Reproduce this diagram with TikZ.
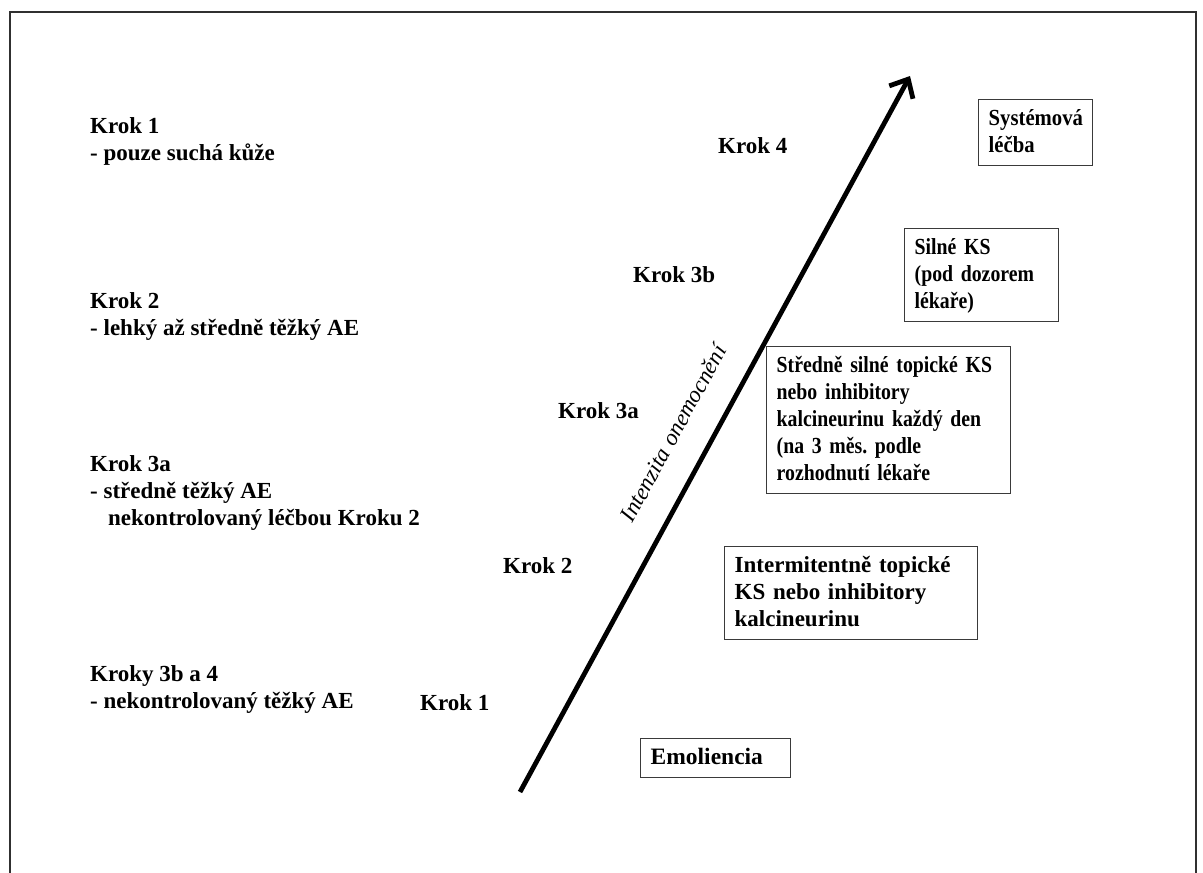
\documentclass[tikz,border=0pt]{standalone}
\usepackage{fontspec}
\setmainfont{Liberation Serif}
\newfontfamily\condfam[FakeStretch=0.86]{Liberation Serif}
\newfontfamily\semicondfam[FakeStretch=0.9]{Liberation Serif}
\usetikzlibrary{arrows.meta}
\definecolor{framegray}{HTML}{303030}
\definecolor{boxgray}{HTML}{3A3A3A}
\newcommand\fsz[1]{\fontsize{#1}{27}\selectfont}
\frenchspacing
\tikzset{
  basefont/.style={font=\fsz{23}\bfseries},
  condfont/.style={font=\condfam\fsz{23}\bfseries},
  lbl/.style={basefont, inner sep=0pt, anchor=base west},
  col/.style={basefont, inner sep=0pt, align=left, anchor=north west,
    execute at begin node=\rule{0pt}{18pt}},
  box/.style={basefont, draw=boxgray, line width=1.4pt, align=left,
    anchor=north west, inner xsep=10pt, inner ysep=8pt,
    execute at begin node=\rule{0pt}{18pt},
    execute at end node=\rule[-5pt]{0pt}{5pt}},
}
\begin{document}
\begin{tikzpicture}[x=1pt, y=-1pt]
\useasboundingbox (0,0) rectangle (1203,873);
\fill[white] (0,0) rectangle (1203,873);

% open frame around the page
\draw[framegray, line width=2pt] (9.5,873) -- (9.5,11.5) -- (1196,11.5) -- (1196,873);

% left column: description of each step
\node[col] (d1) at (90,117) {Krok 1\\- pouze suchá kůže};
\node[col] (d2) at (90,292) {Krok 2\\- lehký až středně těžký AE};
\node[col] (d3) at (90,455) {Krok 3a\\- středně těžký AE\\\hspace*{18pt}nekontrolovaný léčbou Kroku 2};
\node[col] (d4) at (90,665) {Kroky 3b a 4\\- nekontrolovaný těžký AE};

% step labels along the axis
\node[lbl] (k1) at (420,710) {Krok 1};
\node[lbl] (k2) at (503,573) {Krok 2};
\node[lbl] (k3a) at (558,418) {Krok 3a};
\node[lbl] (k3b) at (633,282) {Krok 3b};
\node[lbl] (k4) at (718,153) {Krok 4};

% severity axis
\coordinate (axisstart) at (520,792);
\coordinate (axistip) at (910,76);
\draw[line width=4.8pt, -{Straight Barb[length=15pt,width=27pt]}] (axisstart) -- (axistip);
\node[font=\fsz{23}\itshape, inner sep=0pt, rotate=61.4, anchor=base]
  (axislabel) at (680,437) {Intenzita onemocnění};

% treatment boxes
\node[box, font=\semicondfam\fsz{23}\bfseries, text width=94pt] (sys) at (978,99) {\mbox{Systémová}\\léčba};
\node[box, condfont, text width=134pt] (silne) at (904,228) {Silné KS\\\mbox{(pod dozorem}\\lékaře)};
\node[box, condfont, text width=224pt] (stred) at (766,346)
  {\mbox{Středně silné topické KS}\\nebo inhibitory\\\mbox{kalcineurinu každý den}\\\mbox{(na 3 měs. podle}\\\mbox{rozhodnutí lékaře}};
\node[box, text width=233pt] (inter) at (724,546)
  {\mbox{Intermitentně topické}\\\mbox{KS nebo inhibitory}\\kalcineurinu};
\node[box, font=\fsz{23.5}\bfseries, text width=130pt] (emol) at (640,738) {Emoliencia};
\end{tikzpicture}
\end{document}
